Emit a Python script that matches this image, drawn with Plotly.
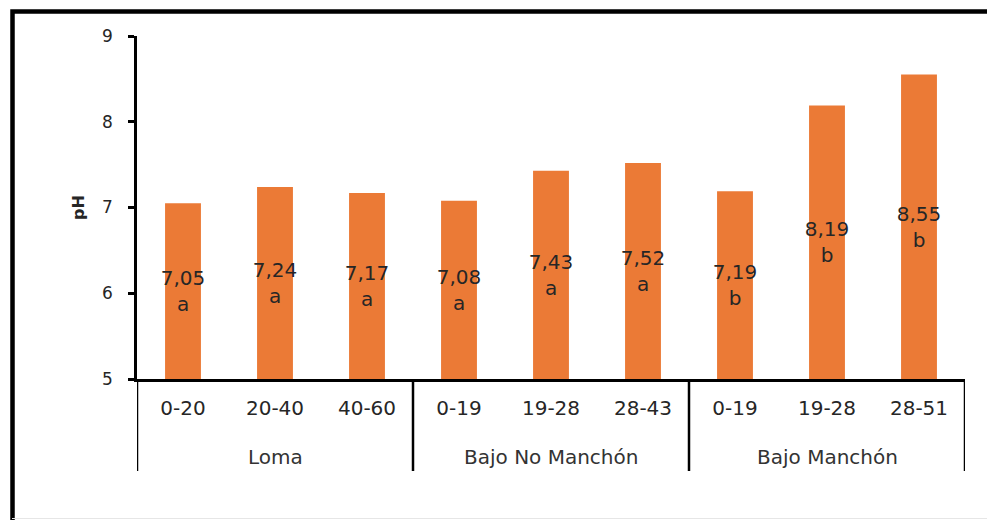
import plotly.graph_objects as go

# Soil pH by site and depth (cm)
sites = ["Loma", "Loma", "Loma",
         "Bajo No Manchón", "Bajo No Manchón", "Bajo No Manchón",
         "Bajo Manchón", "Bajo Manchón", "Bajo Manchón"]
depths = ["0-20", "20-40", "40-60",
          "0-19", "19-28", "28-43",
          "0-19", "19-28", "28-51"]
ph_values = [7.05, 7.24, 7.17, 7.08, 7.43, 7.52, 7.19, 8.19, 8.55]
letters = ["a", "a", "a", "a", "a", "a", "b", "b", "b"]

y_ticks = [5, 6, 7, 8, 9]
y_floor = 5

FONT = "DejaVu Sans"
TXT = "#262626"
W, H = 987, 520
L, R, T, B = 137, 22, 36, 141
pw, ph = W - L - R, H - T - B


def px_to_paper(xp, yp):
    return (xp - L) / pw, (H - B - yp) / ph


positions = list(range(len(depths)))
labels = [f"{v:.2f}".replace(".", ",") + "<br>" + l
          for v, l in zip(ph_values, letters)]

fig = go.Figure()
fig.add_trace(go.Bar(
    x=positions,
    y=[v - y_floor for v in ph_values],
    base=y_floor,
    marker=dict(color="#EB7A36", line=dict(width=0)),
    width=0.39,
    text=labels,
    textposition="inside",
    insidetextanchor="middle",
    textangle=0,
    constraintext="none",
    textfont=dict(family=FONT, size=20, color=TXT),
    hoverinfo="skip",
))

# group labels and dividers below the depth labels
groups = []
for i, s in enumerate(sites):
    if not groups or groups[-1][0] != s:
        groups.append([s, i, i])
    else:
        groups[-1][2] = i

_, div_bottom = px_to_paper(0, 471)
bounds = [g[1] - 0.5 for g in groups] + [groups[-1][2] + 0.5]
for xb in bounds:
    fig.add_shape(type="line", xref="x", yref="paper",
                  x0=xb, x1=xb, y0=0, y1=div_bottom,
                  line=dict(color="black", width=2.5))
for name, i0, i1 in groups:
    fig.add_annotation(x=(i0 + i1) / 2, xref="x", y=0, yref="paper",
                       text=name, showarrow=False, yanchor="middle",
                       yshift=-(457 - (H - B)),
                       font=dict(family=FONT, size=20, color="#333333"))

# chart frame (left and top edges)
x0, y0 = px_to_paper(12.5, 521)
x1, y1 = px_to_paper(12.5, 11.5)
x2, _ = px_to_paper(990, 11.5)
fig.add_shape(type="path", xref="paper", yref="paper",
              path=f"M {x0} {y0} L {x1} {y1} L {x2} {y1}",
              line=dict(color="black", width=4.5))
gx0, gy = px_to_paper(12, 518.5)
gx1, _ = px_to_paper(990, 518.5)
fig.add_shape(type="line", xref="paper", yref="paper",
              x0=gx0, x1=gx1, y0=gy, y1=gy,
              line=dict(color="#E6E6E6", width=1))

fig.update_layout(
    width=W, height=H,
    margin=dict(l=L, r=R, t=T, b=B, pad=0),
    paper_bgcolor="white", plot_bgcolor="white",
    showlegend=False,
    font=dict(family=FONT, color=TXT),
)
fig.update_xaxes(
    range=[-0.5, len(depths) - 0.5],
    tickvals=positions, ticktext=depths,
    showline=True, linecolor="black", linewidth=2.5,
    ticks="", showgrid=False, zeroline=False,
    ticklabelstandoff=9,
    tickfont=dict(family=FONT, size=20, color=TXT),
)
fig.update_yaxes(
    range=[5, 9], tickvals=y_ticks,
    showline=True, linecolor="black", linewidth=2.5,
    ticks="outside", ticklen=6, tickwidth=2.5, tickcolor="black",
    showgrid=False, zeroline=False,
    tickfont=dict(family=FONT, size=17, color=TXT),
    ticklabelstandoff=12,
    title=dict(text="<b>pH</b>", font=dict(family=FONT, size=16, color=TXT),
               standoff=14),
)

fig.write_html("out.html")
